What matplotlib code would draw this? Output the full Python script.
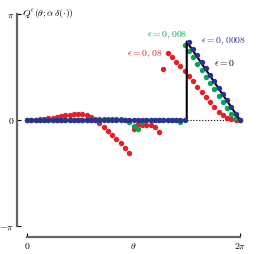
import numpy as np
import matplotlib
matplotlib.use("Agg")
import matplotlib.pyplot as plt

plt.rcParams['mathtext.fontset'] = 'cm'
plt.rcParams['font.family'] = ['DejaVu Serif']

# sample grid, 50 steps over [0, 2pi]; values below are in units of pi
theta = np.linspace(0, 2*np.pi, 51)

blue_vals = [0.0]*38 + [0.735, 0.674, 0.613, 0.551, 0.49, 0.429, 0.368,
                        0.306, 0.245, 0.184, 0.123, 0.061, 0.0]

green_vals = ([0.0]*16 + [0.01]*7 + [0.0, -0.02, -0.06, -0.085, -0.02]
              + [0.004]*8 + [-0.015]
              + [0.705, 0.65, 0.59, 0.53, 0.47, 0.41, 0.35, 0.29,
                 0.23, 0.17, 0.11, 0.06, 0.02, 0.0])

red_idx = list(range(51))
red_vals = [0.0, 0.0, 0.0, 0.005, 0.01, 0.015, 0.02, 0.03, 0.035, 0.045,
            0.05, 0.055, 0.06, 0.055, 0.047, 0.03, 0.0,
            -0.03, -0.066, -0.104, -0.142, -0.18, -0.22, -0.265, -0.31,
            -0.085, -0.04, -0.045, -0.045, -0.05, -0.065, -0.11,
            0.48, 0.632, 0.594, 0.547, 0.505, 0.462, 0.415, 0.368, 0.315,
            0.264, 0.217, 0.17, 0.123, 0.08, 0.045, 0.018, 0.005, 0.0, 0.0]

exact_x = [0, 1.5, 1.5, 2]
exact_y = [0, 0, 0.74, 0]

RED = '#ec1c24'
GREEN = '#00a651'
BLUE = '#2e3192'
DOT = 15

fig = plt.figure(figsize=(2.67, 2.54), dpi=100)
ax = fig.add_axes([0.1011, 0.1102, 0.7978, 0.8347])

ax.scatter(theta[red_idx], np.array(red_vals)*np.pi, s=DOT, color=RED,
           lw=0, zorder=3, clip_on=False)
ax.scatter(theta, np.array(green_vals)*np.pi, s=DOT, color=GREEN,
           lw=0, zorder=4, clip_on=False)
ax.plot(np.array(exact_x)*np.pi, np.array(exact_y)*np.pi, color='black',
        lw=1.5, zorder=5, clip_on=False)
ax.plot([1.5*np.pi, 2*np.pi], [0, 0], color='black', lw=0.8, ls=':',
        zorder=2)
ax.scatter(theta, np.array(blue_vals)*np.pi, s=DOT, color=BLUE,
           lw=0, zorder=6, clip_on=False)

ax.set_xlim(0, 2*np.pi)
ax.set_ylim(-np.pi, np.pi)

for s in ['top', 'right']:
    ax.spines[s].set_visible(False)
ax.spines['left'].set_position(('outward', 7))
ax.spines['bottom'].set_position(('outward', 8))
for s in ['left', 'bottom']:
    ax.spines[s].set_color('#666666')
    ax.spines[s].set_linewidth(1.6)

ax.set_xticks([0, np.pi, 2*np.pi])
ax.set_xticklabels(['$0$', r'$\theta$', r'$2\pi$'])
ax.set_yticks([-np.pi, 0, np.pi])
ax.set_yticklabels([r'$-\pi$', '$0$', r'$\pi$'])
ax.tick_params(direction='in', length=3, width=0.8, color='black',
               labelsize=7)
ax.tick_params(axis='y', pad=2)
ax.tick_params(axis='x', pad=3)
ax.xaxis.get_major_ticks()[1].tick1line.set_visible(False)

ax.text(-0.15, np.pi, r"$Q^\epsilon(\theta;\alpha\,\delta(\cdot))$",
        fontsize=7, ha='left', va='center')
ax.text(2.95, 1.95, r"$\epsilon = 0,08$", color=RED, fontsize=7,
        ha='left', va='center')
ax.text(3.54, 2.52, r"$\epsilon = 0,008$", color=GREEN, fontsize=7,
        ha='left', va='center')
ax.text(5.13, 2.34, r"$\epsilon = 0,0008$", color=BLUE, fontsize=7,
        ha='left', va='center')
ax.text(5.52, 1.69, r"$\epsilon = 0$", color='black', fontsize=7,
        ha='left', va='center')

fig.savefig('out.png', dpi=100)
